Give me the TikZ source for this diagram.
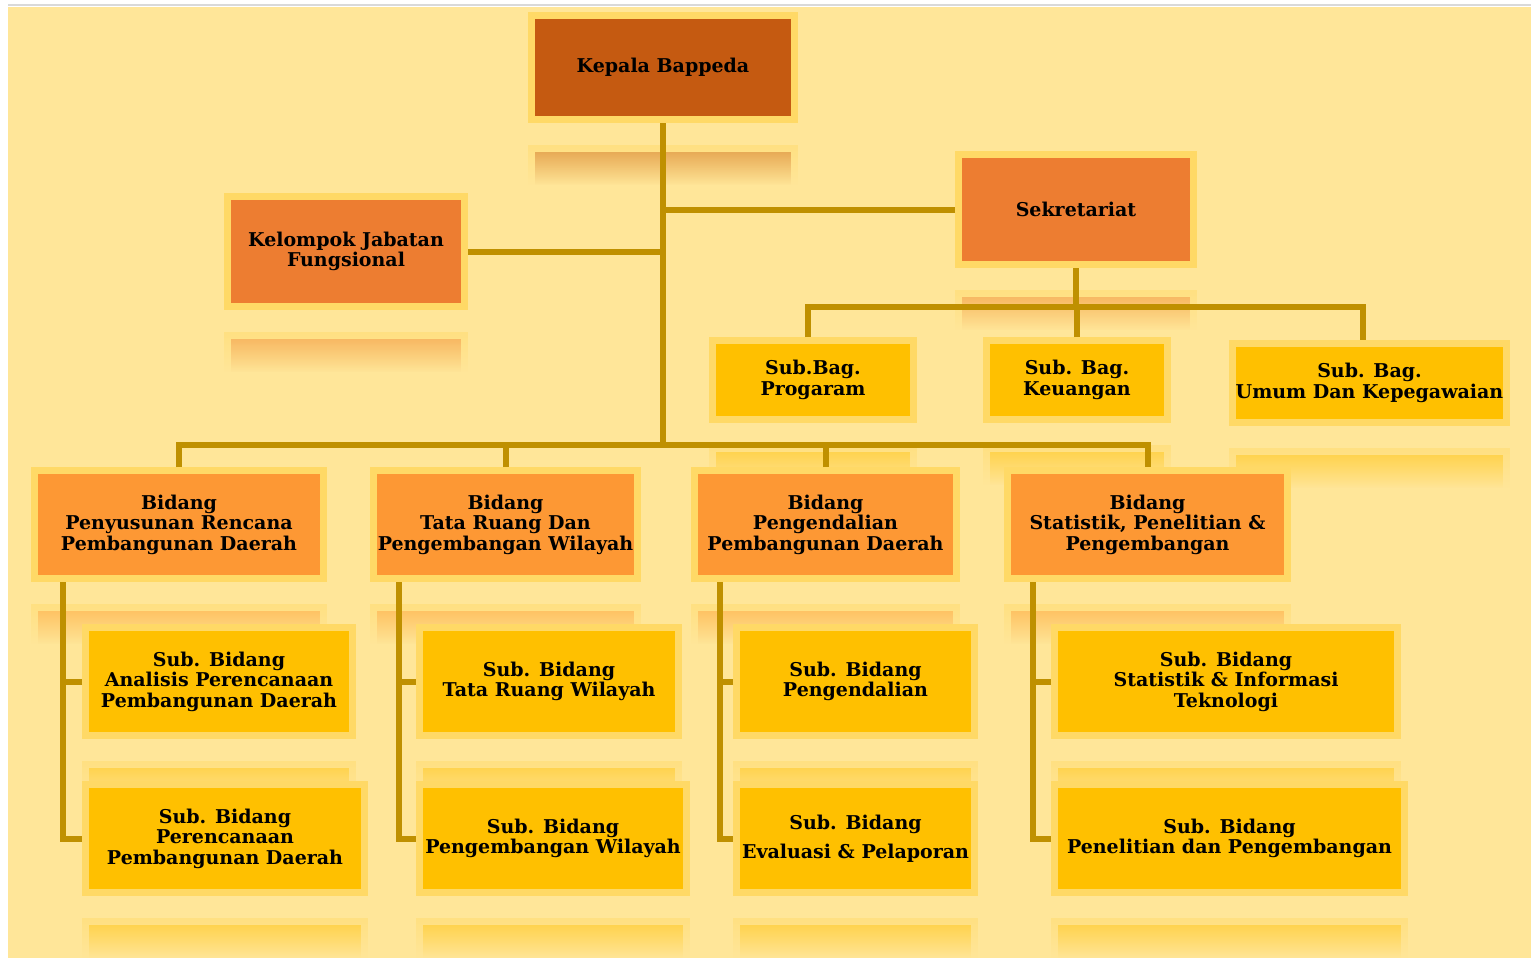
\documentclass[tikz,border=0pt]{standalone}
\usepackage{fontspec}
\setmainfont{DejaVu Serif}
\usetikzlibrary{fadings,backgrounds,calc}
\definecolor{paper}{HTML}{FFE699}
\definecolor{rim}{HTML}{FFD966}
\definecolor{topfill}{HTML}{C55A11}
\definecolor{secfill}{HTML}{ED7D31}
\definecolor{bidfill}{HTML}{FD9834}
\definecolor{subfill}{HTML}{FFC000}
\definecolor{gold}{HTML}{BF9000}

% faded mirror image under a box
\newcommand{\mirror}[2]{%
  \fill[rim, path fading=south, opacity=.45] ($(#1.south west)+(0,22)$) rectangle ($(#1.south east)+(0,62)$);
  \fill[#2, path fading=south, opacity=.4] ($(#1.south west)+(7,29)$) rectangle ($(#1.south east)+(-7,62)$);}

\begin{document}
\begin{tikzpicture}[x=1pt,y=-1pt]
    \tikzset{unit/.style = {draw=rim, line width=7pt, align=center, inner sep=0pt,
        font=\bfseries\fontsize{19}{20.5}\selectfont}}
    \tikzset{head/.style = {unit, fill=topfill, minimum width=263, minimum height=104}}
    \tikzset{staff/.style = {unit, fill=secfill}}
    \tikzset{bid/.style = {unit, fill=bidfill, minimum height=108}}
    \tikzset{sub/.style = {unit, fill=subfill}}
    \tikzset{link/.style = {draw=gold, line width=6pt}}

    \useasboundingbox (0,0) rectangle (1531,958);
    \begin{scope}[on background layer]
        \fill[paper] (8,7) rectangle (1531,958);
        \draw[black!15, line width=1.5pt] (8,5) -- (1531,5);
    \end{scope}

    % vertices
    \node[head] (kepala) at (663,67.5) {Kepala Bappeda};
    \node[staff, minimum width=235, minimum height=110] (sekret) at (1076,209.5) {Sekretariat};
    \node[staff, minimum width=237, minimum height=110] (kjf) at (346,251.5) {Kelompok Jabatan\\Fungsional};

    \node[sub, minimum width=201, minimum height=79] (progaram) at (813,380) {Sub.Bag.\\Progaram};
    \node[sub, minimum width=181, minimum height=79] (keuangan) at (1077,380) {Sub. Bag.\\Keuangan};
    \node[sub, minimum width=274, minimum height=79] (umum) at (1369.5,383) {Sub. Bag.\\Umum Dan Kepegawaian};

    \node[bid, minimum width=289] (b1) at (179,524.5) {Bidang\\Penyusunan Rencana\\Pembangunan Daerah};
    \node[bid, minimum width=264] (b2) at (505.5,524.5) {Bidang\\Tata Ruang Dan\\Pengembangan Wilayah};
    \node[bid, minimum width=262] (b3) at (825.5,524.5) {Bidang\\Pengendalian\\Pembangunan Daerah};
    \node[bid, minimum width=280] (b4) at (1147.5,524.5) {Bidang\\Statistik, Penelitian \&\\Pengembangan};

    \node[sub, minimum width=267, minimum height=108] (s1a) at (219,681.5) {Sub. Bidang\\Analisis Perencanaan\\Pembangunan Daerah};
    \node[sub, minimum width=279, minimum height=108] (s1b) at (225,838.5) {Sub. Bidang\\Perencanaan\\Pembangunan Daerah};
    \node[sub, minimum width=259, minimum height=108] (s2a) at (549,681.5) {Sub. Bidang\\Tata Ruang Wilayah};
    \node[sub, minimum width=267, minimum height=108] (s2b) at (553,838.5) {Sub. Bidang\\Pengembangan Wilayah};
    \node[sub, minimum width=238, minimum height=108] (s3a) at (855.5,681.5) {Sub. Bidang\\Pengendalian};
    \node[sub, minimum width=238, minimum height=108] (s3b) at (855.5,838.5) {Sub. Bidang\\[8pt]Evaluasi \& Pelaporan};
    \node[sub, minimum width=343, minimum height=108] (s4a) at (1226,681.5) {Sub. Bidang\\Statistik \& Informasi\\Teknologi};
    \node[sub, minimum width=350, minimum height=108] (s4b) at (1229.5,838.5) {Sub. Bidang\\Penelitian dan Pengembangan};

    % reflections
    \begin{scope}[on background layer]
        \mirror{kepala}{topfill}
        \mirror{sekret}{secfill}
        \mirror{kjf}{secfill}
        \foreach \n in {progaram,keuangan,umum,s1a,s1b,s2a,s2b,s3a,s3b,s4a,s4b}
            {\mirror{\n}{subfill}}
        \foreach \n in {b1,b2,b3,b4}
            {\mirror{\n}{bidfill}}
    \end{scope}

    % edges
    \coordinate (bar) at (663,445);
    \coordinate (sekbar) at (1076,307);
    \draw[link] (kepala.south) -- (bar);
    \draw[link] (kjf.east) -- (kjf.east -| kepala.south);
    \draw[link] (sekret.west) -- (sekret.west -| kepala.south);

    \draw[link] (sekret.south) -- (sekbar);
    \draw[link] ([xshift=-5]progaram.north) |- (sekbar) -| ([xshift=-6.5]umum.north);
    \draw[link] (keuangan.north) -- (keuangan.north |- sekbar);

    \draw[link] (b1.north) |- (bar) -| (b4.north);
    \draw[link] (b2.north) -- (b2.north |- bar);
    \draw[link] (b3.north) -- (b3.north |- bar);

    \foreach \i/\d in {1/32,2/29,3/29,4/29} {
        \coordinate (t\i) at ([xshift=\d]b\i.south west);
        \draw[link] (t\i) |- (s\i b.west);
        \draw[link] (s\i a.west) -- (s\i a.west -| t\i);
    }
\end{tikzpicture}
\end{document}
